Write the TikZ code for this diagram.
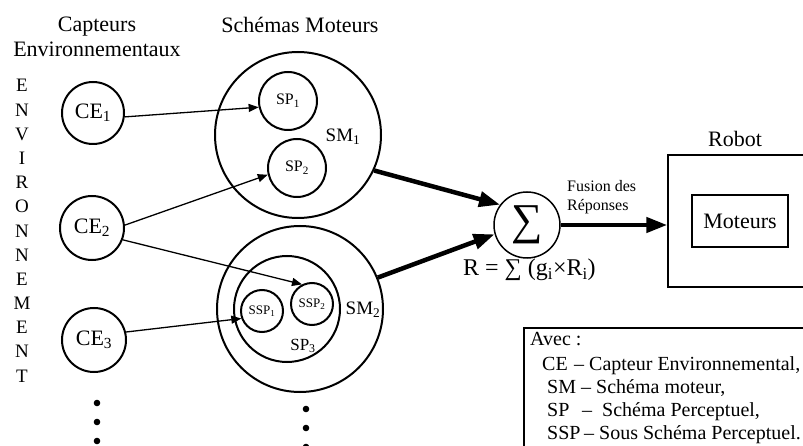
\documentclass[tikz,border=0pt]{standalone}
\usepackage{fontspec}
\setmainfont{Liberation Serif}
\usetikzlibrary{arrows.meta}
\tikzset{
  circ/.style={circle,draw,line width=2pt,inner sep=0pt,minimum size=#1},
  big/.style={font=\fontsize{22}{25}\selectfont},
  mid/.style={font=\fontsize{19}{22}\selectfont},
  sml/.style={font=\fontsize{16}{19}\selectfont},
  tiny/.style={font=\fontsize{13}{15}\selectfont},
  leg/.style={font=\fontsize{20}{23}\selectfont,anchor=base west,inner sep=0pt},
  thinarrow/.style={line width=1.3pt,-{Triangle[length=10pt,width=8pt]}},
  thickarrow/.style={line width=4.5pt,-{Triangle[length=21pt,width=15pt]}},
  dotc/.style={circle,fill,inner sep=0pt,minimum size=6.6pt},
  boxn/.style={draw,line width=1.5pt,inner sep=0pt}
}
\begin{document}
\begin{tikzpicture}[x=1pt,y=-1pt]
\clip (0,0) rectangle (803,446);
\useasboundingbox (0,0) rectangle (803,446);

% headers
\node[big,anchor=base,inner sep=0pt] (capt1) at (97,32) {Capteurs};
\node[big,anchor=base,inner sep=0pt] (capt2) at (97,57) {Environnementaux};
\node[big,anchor=base,inner sep=0pt] (schm) at (300,33) {Schémas Moteurs};

% ENVIRONNEMENT
\foreach \l [count=\i from 0] in {E,N,V,I,R,O,N,N,E,M,E,N,T}{
  \node[font=\fontsize{19}{22}\selectfont,anchor=base,inner sep=0pt] (env\i) at (22,{92+24.17*\i}) {\l};
}

% sensors
\node[circ=62,big] (ce1) at (93,113) {CE\textsubscript{1}};
\node[circ=64,big] (ce2) at (92,228) {CE\textsubscript{2}};
\node[circ=64,big] (ce3) at (94,340) {CE\textsubscript{3}};

% motor schemas
\node[circ=166] (sm1) at (298,135) {};
\node[circ=58,sml] (sp1) at (288,101) {SP\textsubscript{1}};
\node[circ=58,sml] (sp2) at (297,168) {SP\textsubscript{2}};
\node[mid] (sm1l) at (343,137) {SM\textsubscript{1}};

\node[circ=166] (sm2) at (300,309) {};
\node[circ=106] (sp3) at (287,309) {};
\node[circ=42,tiny] (ssp1) at (262,311) {SSP\textsubscript{1}};
\node[circ=42,tiny] (ssp2) at (312,304) {SSP\textsubscript{2}};
\node[mid] (sm2l) at (363,310) {SM\textsubscript{2}};
\node[font=\fontsize{17}{20}\selectfont] (sp3l) at (303,346) {SP\textsubscript{3}};

% dots
\foreach \y [count=\i] in {403,422,441}{ \node[dotc] (dl\i) at (97,\y) {}; }
\foreach \y [count=\i] in {409,428,447}{ \node[dotc] (dr\i) at (306,\y) {}; }

% sum
\node[circle,draw,line width=1.5pt,inner sep=0pt,minimum size=66pt,font=\fontsize{44}{44}\selectfont] (sigma) at (527,225) {∑};
\node[sml,anchor=base west,inner sep=0pt] (fus1) at (567,192) {Fusion des};
\node[sml,anchor=base west,inner sep=0pt] (fus2) at (567,211) {Réponses};
\node[font=\fontsize{24}{26}\selectfont,anchor=base west,inner sep=0pt] (formula) at (463,276) {R = ∑ (g\textsubscript{i}×R\textsubscript{i})};

% robot
\node[boxn,minimum width=152pt,minimum height=132pt] (robot) at (744,221) {};
\node[big,anchor=base,inner sep=0pt] (robotl) at (735,147) {Robot};
\node[boxn,big,minimum width=96pt,minimum height=52pt] (mot) at (740,221) {Moteurs};

% connectors
\draw[thinarrow] (ce1.-7) -- (sp1.192);
\draw[thinarrow] (ce2.5) -- (sp2.193);
\draw[thinarrow] (ce2.-21) -- (ssp2.117);
\draw[thinarrow] (ce3.14) -- (ssp1.200);
\draw[thickarrow] (sm1.-25) -- (sigma.143);
\draw[thickarrow] (sm2.22) -- (sigma.196);
\draw[thickarrow] (sigma.east) -- (sigma.east -| robot.west);

% legend
\node[draw,line width=2pt,minimum width=290pt,minimum height=130pt,inner sep=0pt] (legend) at (669,393) {};
\node[leg] (l0) at (530,345) {Avec :};
\node[leg] (l1a) at (542,370) {CE};
\node[leg] (l1b) at (574,370) {– Capteur Environnemental,};
\node[leg] (l2a) at (547,393) {SM};
\node[leg] (l2b) at (581,393) {– Schéma moteur,};
\node[leg] (l3a) at (547,416) {SP};
\node[leg] (l3b) at (582,416) {–~~Schéma Perceptuel,};
\node[leg] (l4a) at (547,439) {SSP};
\node[leg] (l4b) at (584,439) {– Sous Schéma Perceptuel.};
\end{tikzpicture}
\end{document}
